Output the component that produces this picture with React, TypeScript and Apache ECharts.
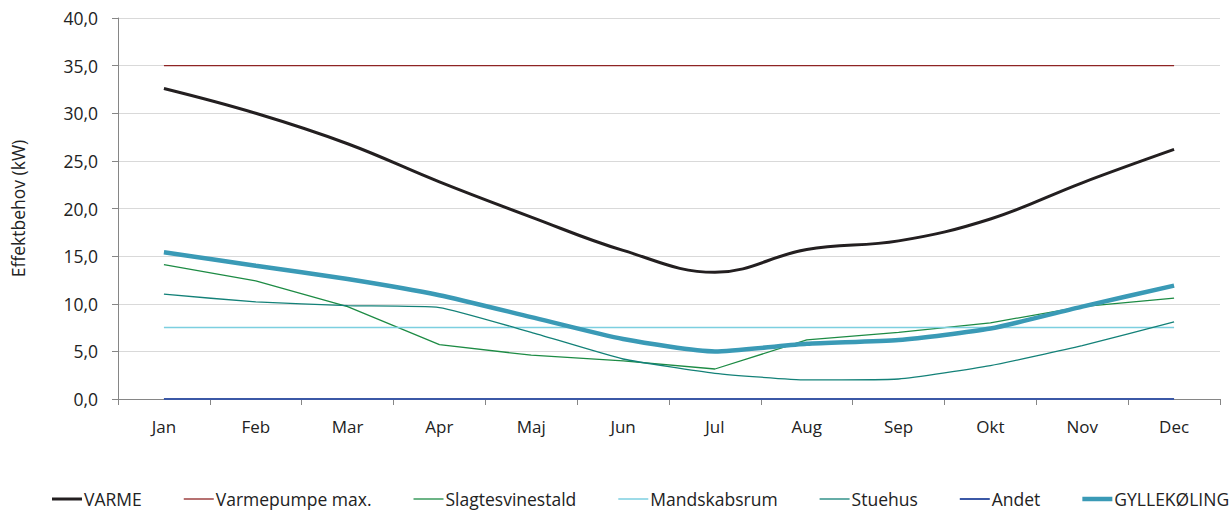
import React, { useEffect, useRef } from "react";
import * as echarts from "echarts";

const months = ["Jan", "Feb", "Mar", "Apr", "Maj", "Jun", "Jul", "Aug", "Sep", "Okt", "Nov", "Dec"];
const varme = [32.6, 30.0, 26.8, 22.8, 19.1, 15.6, 13.3, 15.7, 16.6, 18.9, 22.7, 26.2];
const varmepumpe = [35, 35, 35, 35, 35, 35, 35, 35, 35, 35, 35, 35];
const slagtesvinestald = [14.1, 12.4, 9.7, 5.7, 4.6, 4.0, 3.15, 6.2, 7.0, 8.0, 9.7, 10.6];
const mandskabsrum = [7.5, 7.5, 7.5, 7.5, 7.5, 7.5, 7.5, 7.5, 7.5, 7.5, 7.5, 7.5];
const stuehus = [11.0, 10.2, 9.8, 9.6, 7.0, 4.2, 2.7, 2.0, 2.1, 3.5, 5.6, 8.1];
const andet = [0, 0, 0, 0, 0, 0, 0, 0, 0, 0, 0, 0];
const gyllekoling = [15.4, 14.0, 12.6, 10.9, 8.6, 6.3, 5.0, 5.8, 6.2, 7.4, 9.7, 11.9];

const FONT = "Open Sans";
const legendNames = ["VARME", "Varmepumpe max.", "Slagtesvinestald", "Mandskabsrum", "Stuehus", "Andet", "GYLLEKØLING"];
const colors = ["#231f20", "#8e2424", "#1d8b44", "#7ccfe0", "#138178", "#3b58a6", "#3a9ab6"];
const widths = [3, 1.3, 1.3, 1.5, 1.3, 2, 4.5];

export default function App() {
  const ref = useRef<HTMLDivElement>(null);
  useEffect(() => {
    if (!ref.current) return;
    const chart = echarts.init(ref.current, undefined, { renderer: "svg" });
    const line = (i: number, data: number[], smooth: boolean | number = false) => ({
      name: legendNames[i],
      type: "line",
      data,
      smooth,
      symbol: "none",
      lineStyle: { color: colors[i], width: widths[i] },
      itemStyle: { color: colors[i] },
    });
    chart.setOption({
      animation: false,
      textStyle: { fontFamily: FONT, fontSize: 17 },
      grid: { left: 118, right: 11, top: 18, bottom: 112, outerBoundsMode: "none", containLabel: false },
      legend: {
        left: 47,
        top: 485,
        width: 2000,
        itemWidth: 30,
        itemHeight: 5,
        itemGap: 42,
        textStyle: { fontSize: 17.5, color: "#222", fontFamily: FONT, padding: [0, 0, 0, -3] },
        data: legendNames.map((n, i) => ({
          name: n,
          icon: `path://M0,0 L30,0 L30,${widths[i]} L0,${widths[i]} Z`,
          itemStyle: { color: colors[i] },
        })),
      },
      xAxis: {
        type: "category",
        data: months,
        boundaryGap: true,
        axisLine: { lineStyle: { color: "#868686", width: 1 } },
        axisTick: { show: true, length: 6, lineStyle: { color: "#868686" } },
        axisLabel: { fontSize: 17, color: "#222", margin: 19, fontFamily: FONT },
      },
      yAxis: {
        type: "value",
        min: 0,
        max: 40,
        interval: 5,
        name: "Effektbehov (kW)",
        nameLocation: "middle",
        nameGap: 91,
        nameRotate: 90,
        nameTextStyle: { fontSize: 17.5, color: "#222", fontFamily: FONT },
        axisLine: { show: true, lineStyle: { color: "#868686" } },
        axisTick: { show: true, length: 6, lineStyle: { color: "#868686" } },
        axisLabel: {
          fontSize: 17.5,
          color: "#222",
          margin: 20,
          fontFamily: FONT,
          formatter: (v: number) => v.toFixed(1).replace(".", ","),
        },
        splitLine: { lineStyle: { color: "#d9d9d9", width: 1 } },
      },
      series: [
        line(0, varme, 0.4),
        line(1, varmepumpe),
        line(2, slagtesvinestald),
        line(3, mandskabsrum),
        line(4, stuehus, 0.15),
        line(5, andet),
        line(6, gyllekoling, 0.2),
      ],
    });
    return () => chart.dispose();
  }, []);
  return <div ref={ref} style={{ width: 1231, height: 511, position: "absolute", left: 0, top: 0 }} />;
}
